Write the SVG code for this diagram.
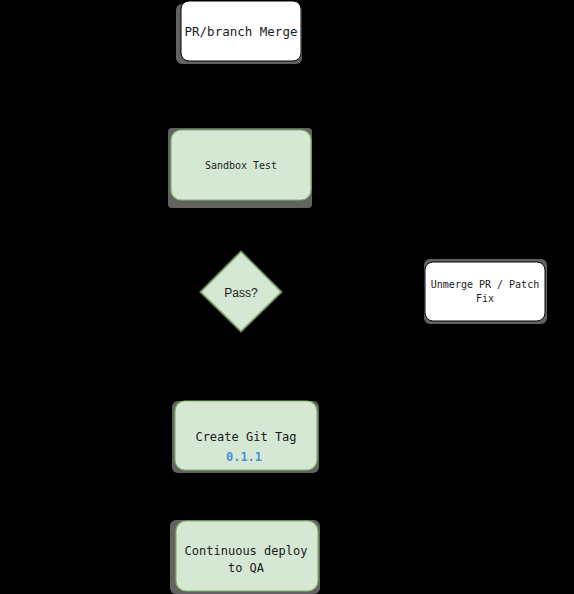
<svg xmlns="http://www.w3.org/2000/svg" width="574" height="594" viewBox="0 0 574 594">
<defs>
<style>
.mono{font-family:"DejaVu Sans Mono","Liberation Mono",monospace;fill:#1a1a1a;text-anchor:middle}
.sans{font-family:"Liberation Sans",Arial,sans-serif;fill:#1a1a1a;text-anchor:middle}
.white{fill:#ffffff;stroke:#000000;stroke-width:1}
.green{fill:#d5e8d4;stroke:#82b366;stroke-width:1.2}
.shadow{fill:#8c8c8c;opacity:0.7}
.edge{fill:none;stroke:#000000;stroke-width:1}
</style>
<marker id="arr" markerWidth="8" markerHeight="8" refX="7" refY="4" orient="auto" markerUnits="userSpaceOnUse">
<path d="M0,0 L8,4 L0,8 L2,4 Z" fill="#000000"/>
</marker>
</defs>
<rect x="0" y="0" width="574" height="594" fill="#000000"/>
<g id="connectors">
<path class="edge" d="M241,61 L241,129" marker-end="url(#arr)"/>
<path class="edge" d="M241,200 L241,251" marker-end="url(#arr)"/>
<path class="edge" d="M241,331 L241,400" marker-end="url(#arr)"/>
<path class="edge" d="M281,292 L424,292" marker-end="url(#arr)"/>
<path class="edge" d="M246,470 L246,520" marker-end="url(#arr)"/>
</g>
<g id="pr-merge">
<rect class="shadow" x="176" y="4" width="126" height="60" rx="6"/>
<rect class="white" x="181" y="1" width="120" height="60" rx="8"/>
<text class="mono" x="241" y="36" font-size="12.5">PR/branch Merge</text>
</g>
<g id="sandbox-test">
<rect class="shadow" x="168" y="128" width="144" height="80" rx="4"/>
<rect class="green" x="171" y="130" width="140" height="70" rx="10"/>
<text class="mono" x="241" y="169" font-size="10">Sandbox Test</text>
</g>
<g id="pass">
<polygon class="shadow" points="241,250 283,292 241,333 199,292"/>
<polygon class="green" points="241,252 281,292 241,331 201,292"/>
<text class="sans" x="241" y="297" font-size="12">Pass?</text>
</g>
<g id="unmerge">
<rect class="shadow" x="424" y="259" width="123" height="65" rx="6"/>
<rect class="white" x="425" y="262" width="120" height="59" rx="8"/>
<text class="mono" x="485" y="288" font-size="10">Unmerge PR / Patch</text>
<text class="mono" x="485" y="302" font-size="10">Fix</text>
</g>
<g id="git-tag">
<rect class="shadow" x="172" y="401" width="147" height="72" rx="6"/>
<rect class="green" x="175" y="401" width="142" height="69" rx="10"/>
<text class="mono" x="246" y="441" font-size="12">Create Git Tag</text>
<text class="mono" x="244" y="461" font-size="12" font-weight="bold" style="fill:#4a90d9">0.1.1</text>
</g>
<g id="deploy-qa">
<rect class="shadow" x="170" y="520" width="150" height="74" rx="6"/>
<rect class="green" x="176" y="521" width="142" height="70" rx="10"/>
<text class="mono" x="246" y="555" font-size="12">Continuous deploy</text>
<text class="mono" x="246" y="572" font-size="12">to QA</text>
</g>
</svg>
